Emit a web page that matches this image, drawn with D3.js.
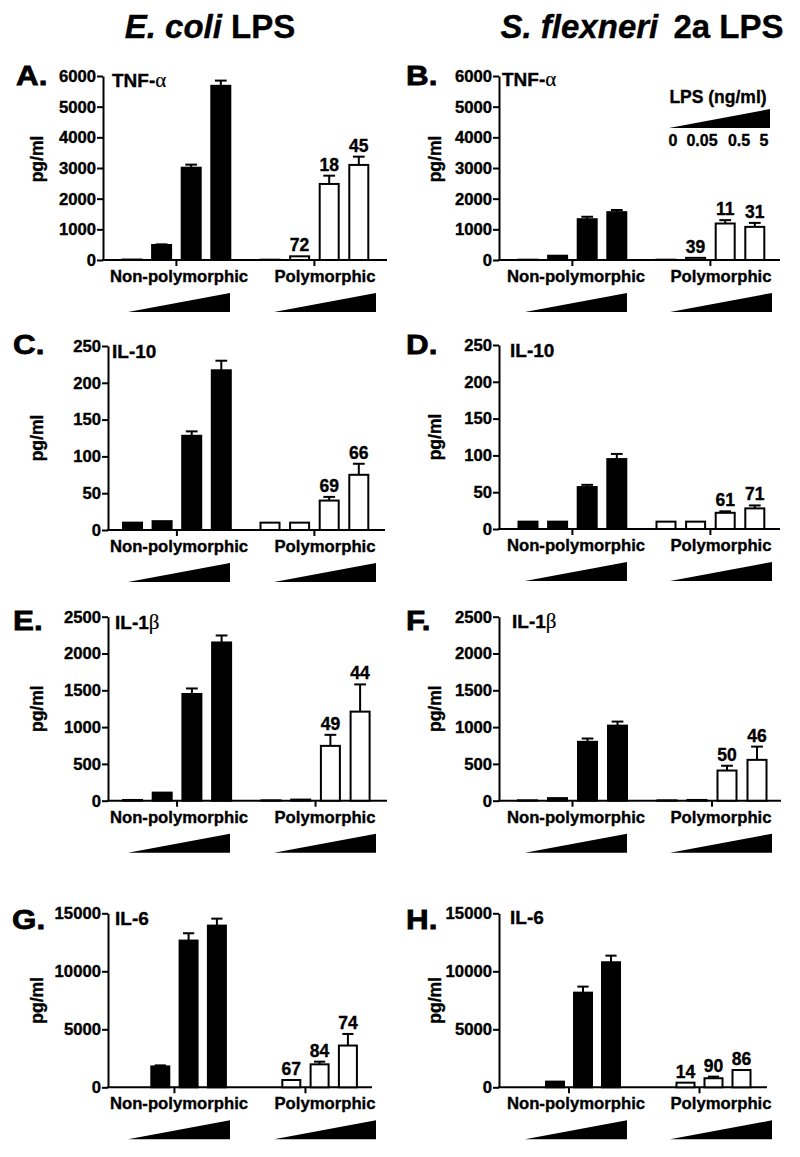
<!DOCTYPE html>
<html><head><meta charset="utf-8">
<script src="https://cdn.jsdelivr.net/npm/d3@7"></script>
<style>
body{margin:0;background:#fff}
svg{display:block}
text{font-family:"Liberation Sans",Arial,Helvetica,sans-serif;font-weight:bold;fill:#000;stroke:#000;stroke-width:0.35px}
</style>
</head><body><svg id="c" width="800" height="1157"></svg>
<script>
// ---------- DATA ----------
const groups = ["Non-polymorphic", "Polymorphic"];
const doses = ["0", "0.05", "0.5", "5"];
const columnTitles = [["E. coli", " LPS"], ["S. flexneri", " 2a LPS"]];
const panelLetters = ["A.", "B.", "C.", "D.", "E.", "F.", "G.", "H."];
const cytokineNames = ["TNF-", "TNF-", "IL-10", "IL-10", "IL-1", "IL-1", "IL-6", "IL-6"];
const cytokineGreek = ["α", "α", "", "", "β", "β", "", ""];
const yMax = [6000, 6000, 250, 250, 2500, 2500, 15000, 15000];
const yStep = [1000, 1000, 50, 50, 500, 500, 5000, 5000];
const yLabel = "pg/ml";
const legendTitle = "LPS (ng/ml)";

// means and upward error (SEM) for the 4 LPS doses, per panel A..H
const nonPolyMeans = [
  [15, 490, 3010, 5680],
  [10, 140, 1330, 1560],
  [10, 12, 128, 217],
  [10, 10, 57, 95],
  [10, 110, 1450, 2150],
  [5, 35, 800, 1020],
  [0, 1800, 12650, 13940],
  [0, 490, 8160, 10780]
];
const nonPolyErrors = [
  [0, 20, 100, 170],
  [0, 0, 80, 70],
  [0, 0, 6, 13],
  [0, 0, 3, 7],
  [0, 0, 75, 95],
  [0, 0, 45, 55],
  [0, 90, 630, 600],
  [0, 0, 520, 570]
];
const polyMeans = [
  [10, 120, 2480, 3100],
  [10, 70, 1190, 1080],
  [10, 10, 40, 75],
  [10, 10, 22, 28],
  [5, 15, 745, 1210],
  [5, 10, 410, 555],
  [0, 630, 1980, 3600],
  [0, 400, 780, 1490]
];
const polyErrors = [
  [0, 0, 270, 270],
  [0, 0, 110, 130],
  [0, 0, 5, 15],
  [0, 0, 2, 4],
  [0, 0, 150, 370],
  [0, 0, 65, 180],
  [0, 0, 230, 1000],
  [0, 0, 140, 0]
];
const polyLabels = [
  ["", "72", "18", "45"],
  ["", "39", "11", "31"],
  ["", "", "69", "66"],
  ["", "", "61", "71"],
  ["", "", "49", "44"],
  ["", "", "50", "46"],
  ["", "67", "84", "74"],
  ["", "14", "90", "86"]
];

// ---------- LAYOUT ----------
const layout = [
  {ax:103, axEnd:387, b0:132,   p:29.6, g2:270,   bw:21, y0:260,    y1:76,    letter:[16,85],  title:[112,87]},
  {ax:499, axEnd:780, b0:528,   p:29.6, g2:666,   bw:21, y0:260,    y1:76,    letter:[406,85], title:[502,86]},
  {ax:108, axEnd:385, b0:132.5, p:29.6, g2:270,   bw:21, y0:530,    y1:346,   letter:[13,354], title:[112,358]},
  {ax:499, axEnd:780, b0:528,   p:29.6, g2:666,   bw:21, y0:529,    y1:345,   letter:[406,354],title:[510,357]},
  {ax:108, axEnd:387, b0:132.5, p:29.7, g2:271,   bw:21, y0:800.7,  y1:616.7, letter:[13,630], title:[115,629]},
  {ax:499, axEnd:781, b0:527.5, p:30,   g2:667,   bw:21, y0:800.7,  y1:616.7, letter:[406,630],title:[512,628]},
  {ax:108, axEnd:372, b0:132,   p:28.3, g2:263,   bw:20, y0:1087.3, y1:913.3, letter:[12,929], title:[115,925]},
  {ax:499, axEnd:767, b0:527,   p:28,   g2:657.5, bw:20, y0:1087.3, y1:913.3, letter:[406,929],title:[510,924]}
];
const colAnno = [[179, 325], [576, 721]];
const yLabX = [43, 441];
const titleCenters = [210, 642];
const FS = "16.7px";

const svg = d3.select("#c");

// column titles
columnTitles.forEach((t, i) => {
  const tx = svg.append("text").attr("x", titleCenters[i]).attr("y", 38)
    .attr("text-anchor", "middle").style("font-size", "33px");
  tx.append("tspan").style("font-style", "italic").text(t[0]);
  tx.append("tspan").attr("dx", i === 1 ? 6 : 0).text(t[1]);
});

layout.forEach((L, k) => {
  const col = k % 2;
  const g = svg.append("g");
  const y = d3.scaleLinear().domain([0, yMax[k]]).range([L.y0, L.y1]);
  const step = L.g2 - L.b0;
  const outer = d3.scaleBand().domain(groups)
    .range([L.b0 - L.p / 2, L.g2 + 3.5 * L.p])
    .paddingInner((step - 4 * L.p) / step).paddingOuter(0);
  const pin = 1 - L.bw / L.p;
  const inner = d3.scaleBand().domain(d3.range(4))
    .range([0, outer.bandwidth()]).paddingInner(pin).paddingOuter(pin / 2);

  // y axis
  const yAxis = d3.axisLeft(y)
    .tickValues(d3.range(0, yMax[k] + 1, yStep[k]))
    .tickSize(6).tickSizeOuter(0).tickPadding(1).tickFormat(d3.format("d"));
  const ya = g.append("g").attr("transform", `translate(${L.ax},0)`).call(yAxis);
  ya.select(".domain").attr("stroke", "#000").attr("stroke-width", 2);
  ya.selectAll(".tick line").attr("stroke", "#000").attr("stroke-width", 2);
  ya.selectAll(".tick text").style("font-size", FS).style("font-family", "Liberation Sans, Arial, sans-serif")
    .style("font-weight", "bold").attr("fill", "#000");

  // x axis line + group ticks
  g.append("line").attr("x1", L.ax - 1).attr("x2", L.axEnd).attr("y1", L.y0).attr("y2", L.y0)
    .attr("stroke", "#000").attr("stroke-width", 2);
  const xa = g.append("g").attr("transform", `translate(0,${L.y0})`)
    .call(d3.axisBottom(outer).tickSize(6).tickSizeOuter(0).tickFormat(""));
  xa.select(".domain").remove();
  xa.selectAll(".tick line").attr("stroke", "#000").attr("stroke-width", 2);

  // bars
  const series = [
    {grp: groups[0], means: nonPolyMeans[k], errs: nonPolyErrors[k], fill: "#000", labels: ["", "", "", ""]},
    {grp: groups[1], means: polyMeans[k], errs: polyErrors[k], fill: "#fff", labels: polyLabels[k]}
  ];
  series.forEach(s => {
    const gx = outer(s.grp);
    const rows = s.means.map((m, i) => ({i, m, e: s.errs[i], lab: s.labels[i]}));
    const bg = g.append("g").attr("transform", `translate(${gx},0)`);
    bg.selectAll("rect").data(rows).join("rect")
      .attr("x", d => inner(d.i) + 1).attr("width", inner.bandwidth() - 2)
      .attr("y", d => y(d.m)).attr("height", d => L.y0 - y(d.m))
      .attr("fill", s.fill).attr("stroke", "#000").attr("stroke-width", 2);
    const eb = rows.filter(d => d.e > 0);
    const cap = inner.bandwidth() * 0.28;
    const cx = d => inner(d.i) + inner.bandwidth() / 2;
    bg.selectAll("line.eb").data(eb).join("line").attr("class", "eb")
      .attr("x1", cx).attr("x2", cx)
      .attr("y1", d => y(d.m)).attr("y2", d => y(d.m + d.e))
      .attr("stroke", "#000").attr("stroke-width", 2);
    bg.selectAll("line.cap").data(eb).join("line").attr("class", "cap")
      .attr("x1", d => cx(d) - cap).attr("x2", d => cx(d) + cap)
      .attr("y1", d => y(d.m + d.e)).attr("y2", d => y(d.m + d.e))
      .attr("stroke", "#000").attr("stroke-width", 2);
    bg.selectAll("text.lab").data(rows.filter(d => d.lab)).join("text").attr("class", "lab")
      .attr("x", cx)
      .attr("y", d => y(d.m + d.e) - 5)
      .attr("text-anchor", "middle").style("font-size", "17.5px").text(d => d.lab);
  });

  // group labels + wedges
  groups.forEach((gn, gi) => {
    const c = colAnno[col][gi];
    g.append("text").attr("x", c).attr("y", L.y0 + 22).attr("text-anchor", "middle")
      .style("font-size", FS).text(gn);
    g.append("path")
      .attr("d", `M${c - 51},${L.y0 + 52}L${c + 51},${L.y0 + 52}L${c + 51},${L.y0 + 33}Z`)
      .attr("fill", "#000");
  });

  // y label
  g.append("text").attr("transform", `translate(${yLabX[col]},${(L.y0 + L.y1) / 2 - (k < 2 ? 9 : 0)}) rotate(-90)`)
    .attr("text-anchor", "middle").style("font-size", "17.5px").text(yLabel);

  // cytokine title
  const ct = g.append("text").attr("x", L.title[0]).attr("y", L.title[1]).style("font-size", "19px");
  ct.append("tspan").text(cytokineNames[k]);
  if (cytokineGreek[k]) ct.append("tspan").style("font-family", "Liberation Serif, Times New Roman, serif")
      .style("font-weight", "normal").style("stroke-width", "0.2px").style("font-size", "21px").text(cytokineGreek[k]);

  // panel letter
  g.append("text").attr("transform", `translate(${L.letter[0]},${L.letter[1]}) scale(1.12,1)`)
    .style("font-size", "28px").style("stroke-width", "0.8px").text(panelLetters[k]);
});

// LPS legend in panel B
const lg = svg.append("g");
lg.append("text").attr("x", 718).attr("y", 103).attr("text-anchor", "middle").style("font-size", "17.5px").text(legendTitle);
lg.append("path").attr("d", "M669,128L770,128L770,109Z").attr("fill", "#000");
const doseXs = [673, 702, 739, 764];
lg.selectAll("text.dose").data(doses).join("text").attr("class", "dose")
  .attr("x", (d, i) => doseXs[i]).attr("y", 146).attr("text-anchor", "middle")
  .style("font-size", "16px").text(d => d);
</script>
</body></html>
